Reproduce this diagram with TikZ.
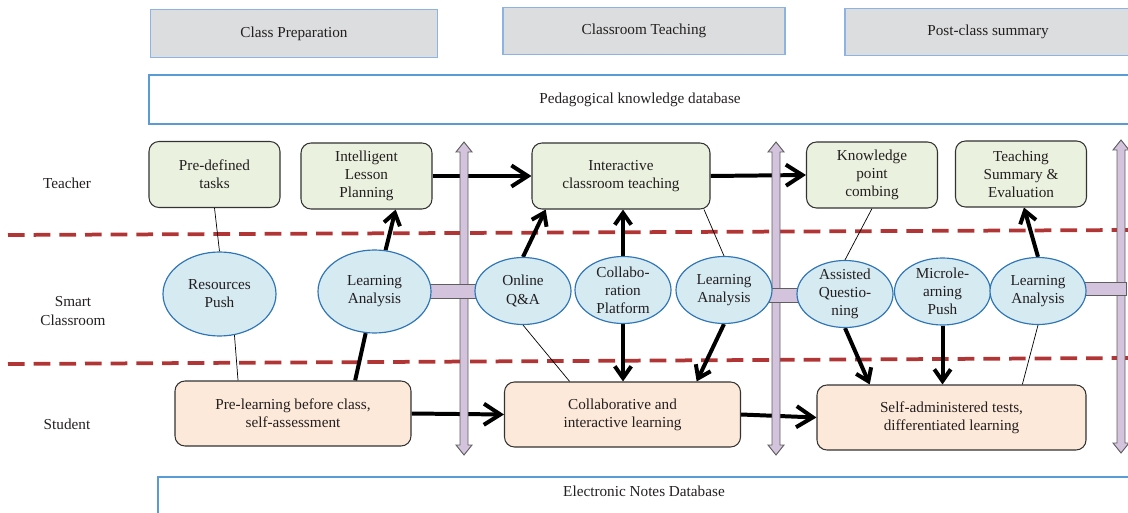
\documentclass[tikz,border=0pt]{standalone}
\usepackage{fontspec}
\setmainfont{Liberation Serif}
\usetikzlibrary{arrows.meta, positioning, shapes.geometric, backgrounds, calc}

\definecolor{inkgray}{HTML}{231F20}
\definecolor{headgray}{HTML}{DCDDDE}
\definecolor{headblue}{HTML}{8DB3E2}
\definecolor{dbblue}{HTML}{5B9BD5}
\definecolor{boxline}{HTML}{333333}
\definecolor{teachgreen}{HTML}{EAF1DF}
\definecolor{studpeach}{HTML}{FDE9D9}
\definecolor{toolblue}{HTML}{2E75B6}
\definecolor{toolfill}{HTML}{D6EAF2}
\definecolor{lanered}{HTML}{B23535}
\definecolor{barfill}{HTML}{D4C3DD}
\definecolor{barline}{HTML}{5F5F5F}

\begin{document}
\begin{tikzpicture}[
    x=0.03cm, y=-0.03cm,
    every node/.style={font=\fontsize{13}{15.5}\selectfont, text=inkgray},
    header/.style={rectangle, draw=headblue, fill=headgray, line width=1pt,
                   minimum width=8.6cm, minimum height=1.43cm},
    dbbox/.style={rectangle, draw=dbblue, line width=1pt,
                  minimum width=29.46cm, minimum height=1.47cm},
    tbox/.style={rectangle, draw=boxline, fill=teachgreen, rounded corners=0.3cm,
                 line width=0.9pt, minimum width=3.93cm, minimum height=1.98cm, align=center},
    sbox/.style={rectangle, draw=boxline, fill=studpeach, rounded corners=0.3cm,
                 line width=0.9pt, minimum width=7.08cm, minimum height=1.95cm, align=center},
    tool/.style={ellipse, draw=toolblue, fill=toolfill, line width=1pt, inner sep=0pt,
                 inner ysep=-3pt, minimum width=2.88cm, minimum height=2.01cm, align=center},
    lanelabel/.style={align=center},
    lane/.style={draw=lanered, line width=3.2pt, dash pattern=on 5mm off 2.7mm},
    flow/.style={draw=black, line width=3.4pt, -{Straight Barb[length=10pt,width=14pt]}},
    bigflow/.style={flow, -{Straight Barb[length=14pt,width=18pt]}},
    flowline/.style={draw=black, line width=3.4pt},
    link/.style={draw=black, line width=0.6pt},
    phasebar/.style={draw=barline, fill=barfill, line width=0.8pt},
]
    \useasboundingbox (0,0) rectangle (1128,513);

    % Phase headers and databases
    \node[header] (prep) at (294,33.5) {Class Preparation};
    \node[header, minimum width=8.46cm] (teach) at (644,31) {Classroom Teaching};
    \node[header, minimum width=8.58cm] (post) at (988,32) {Post-class summary};
    \node[dbbox] (pkdb) at (640,99.5) {Pedagogical knowledge database};
    \draw[draw=dbblue, line width=1pt] (1131,477) -| (158,520);
    \node (endb) at (644,491) {Electronic Notes Database};

    % Lane labels
    \node[lanelabel] (lteacher) at (67,183) {Teacher};
    \node[lanelabel] (lsmart) at (73,311) {Smart\\Classroom};
    \node[lanelabel] (lstudent) at (67,424) {Student};

    % Teacher lane
    \node[tbox] (tasks)    at (214.5,174.5) {Pre-defined\\tasks};
    \node[tbox] (plan)     at (366.5,176) {Intelligent\\Lesson\\Planning};
    \node[tbox, minimum width=5.34cm] (interact) at (621,176) {Interactive\\classroom teaching};
    \node[tbox] (combing)  at (872,175) {Knowledge\\point\\combing};
    \node[tbox] (summary)  at (1021,174) {Teaching\\Summary \&\\Evaluation};

    % Smart classroom lane
    \node[tool, minimum width=3.39cm, minimum height=2.52cm] (push) at (219.5,294) {Resources\\Push};
    \node[tool, minimum width=3.39cm, minimum height=2.49cm] (analysisA) at (374.5,291.5) {Learning\\Analysis};
    \node[tool] (qa)        at (523,291) {Online\\Q\&A};
    \node[tool] (collab)    at (623,290) {Collabo-\\ration\\Platform};
    \node[tool] (analysisB) at (724,290) {Learning\\Analysis};
    \node[tool] (assist)    at (845,294) {Assisted\\Questio-\\ning};
    \node[tool] (micro)     at (942.5,291.5) {Microle-\\arning\\Push};
    \node[tool] (analysisC) at (1038,291) {Learning\\Analysis};

    % Student lane
    \node[sbox] (prelearn)  at (293,413.5) {Pre-learning before class,\\self-assessment};
    \node[sbox] (cooplearn) at (622.5,414.5) {Collaborative and\\interactive learning};
    \node[sbox, minimum width=8.07cm] (selftest) at (951.5,417.5) {Self-administered tests,\\differentiated learning};

    \begin{scope}[on background layer]
        % lane separators
        \draw[lane] (8,235) -- (1128,230);
        \draw[lane] (8,364) -- (1128,358);

        % main flow
        \draw[bigflow] (plan.east) -- (interact.west);
        \draw[bigflow] (interact.east) -- (combing.west);
        \draw[bigflow] (prelearn.east) -- (cooplearn.west);
        \draw[bigflow] (cooplearn.east) -- (selftest.west);
        \draw[flow] (analysisA.75) -- (plan.-49);
        \draw[flowline] (prelearn.28) -- (analysisA.-102);
        \draw[flow] (qa.north) -- (interact.-156);
        \draw[flow] (collab.north) -- (collab.north |- interact.south);
        \draw[flow] (collab.south) -- (collab.south |- cooplearn.north);
        \draw[flow] (analysisB.south) -- (cooplearn.24);
        \draw[flow] (assist.south) -- (selftest.158);
        \draw[flow] (micro.south) -- (micro.south |- selftest.north);
        \draw[flow] (analysisC.north) -- (summary.-85);

        % thin links
        \draw[link] (tasks.south) -- (push.north);
        \draw[link] (push.-70) -- (prelearn.149);
        \draw[link] (qa.south) -- (cooplearn.148);
        \draw[link] (interact.-22) -- (analysisB.north);
        \draw[link] (combing.south) -- (assist.north);
        \draw[link] (analysisC.south) -- (selftest.25);

        % phase dividers
        \foreach \px/\ptop in {464/142, 776/142, 1121/140}
            \draw[phasebar] (\px,\ptop) -- ++(8,10) -- ++(-4,0) -- ++(0,293) -- ++(4,0)
                -- ++(-8,10) -- ++(-8,-10) -- ++(4,0) -- ++(0,-293) -- ++(-4,0) -- cycle;

        % platform bars
        \draw[phasebar] ($(analysisA.east)+(-3,-7)$) rectangle ($(qa.west)+(3,7)$);
        \draw[phasebar] ($(analysisB.east)+(-3,-2)$) rectangle ($(assist.west)+(3,8)$);
        \draw[phasebar] ($(analysisC.east)+(-3,-9)$) rectangle ($(analysisC.east)+(40,4)$);
    \end{scope}
\end{tikzpicture}
\end{document}
